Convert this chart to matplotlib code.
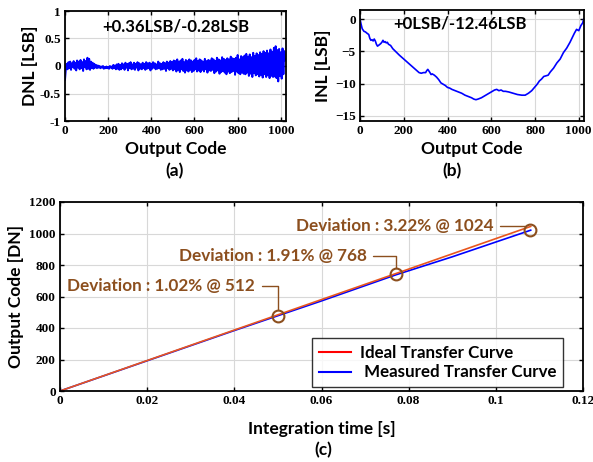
import numpy as np
import matplotlib
matplotlib.use("Agg")
import matplotlib.pyplot as plt
from matplotlib.lines import Line2D

# tick labels: Times-like bold, everything else names its own family
plt.rcParams["font.family"] = ["Liberation Serif"]
plt.rcParams["font.weight"] = "bold"
plt.rcParams["font.size"] = 9

# ---- data ----
dnl_step = 4
dnl = [
    -0.25, -0.05, 0.04, -0.06, 0.07, -0.04, 0.08, -0.07, 0.05, -0.02, 0.09, -0.05, 0.06, -0.08, 0.10, -0.03,
    0.08, -0.06, 0.11, -0.04, 0.07, -0.09, 0.12, -0.02, 0.09, -0.06, 0.15, -0.05, 0.13, -0.07, 0.08, -0.04,
    0.06, -0.05, 0.04, -0.03, 0.02, -0.04, 0.01, -0.03, 0.00, -0.04, -0.01, -0.03, 0.00, -0.05, -0.02, -0.04,
    -0.01, -0.04, -0.02, -0.05, 0.00, -0.03, -0.01, -0.05, 0.02, -0.04, 0.01, -0.06, 0.03, -0.05, 0.04, -0.07,
    0.02, -0.06, 0.05, -0.04, 0.03, -0.07, 0.06, -0.03, 0.04, -0.08, 0.05, -0.04, 0.07, -0.06, 0.03, -0.05,
    0.06, -0.07, 0.04, -0.03, 0.07, -0.08, 0.05, -0.05, 0.03, -0.06, 0.06, -0.04, 0.04, -0.07, 0.07, -0.05,
    0.05, -0.04, 0.06, -0.08, 0.04, -0.05, 0.07, -0.03, 0.05, -0.06, 0.03, -0.05, 0.08, -0.04, 0.05, -0.07,
    0.04, -0.06, 0.07, -0.05, 0.05, -0.09, 0.08, -0.04, 0.06, -0.07, 0.09, -0.05, 0.07, -0.08, 0.10, -0.06,
    0.09, -0.10, 0.12, -0.07, 0.08, -0.11, 0.10, -0.06, 0.13, -0.09, 0.07, -0.12, 0.11, -0.08, 0.09, -0.10,
    0.12, -0.07, 0.10, -0.11, 0.08, -0.09, 0.11, -0.06, 0.14, -0.10, 0.09, -0.08, 0.12, -0.11, 0.10, -0.07,
    0.08, -0.10, 0.13, -0.06, 0.09, -0.12, 0.11, -0.08, 0.10, -0.09, 0.14, -0.07, 0.12, -0.13, 0.09, -0.10,
    0.15, -0.08, 0.12, -0.14, 0.10, -0.11, 0.16, -0.09, 0.13, -0.12, 0.11, -0.15, 0.14, -0.10, 0.12, -0.13,
    0.17, -0.11, 0.14, -0.09, 0.13, -0.16, 0.15, -0.10, 0.20, -0.13, 0.12, -0.15, 0.18, -0.12, 0.16, -0.14,
    0.19, -0.15, 0.22, -0.12, 0.17, -0.18, 0.21, -0.14, 0.16, -0.20, 0.24, -0.13, 0.18, -0.17, 0.23, -0.15,
    0.20, -0.19, 0.25, -0.16, 0.22, -0.21, 0.27, -0.15, 0.24, -0.20, 0.28, -0.17, 0.23, -0.22, 0.30, -0.18,
    0.26, -0.20, 0.33, -0.19, 0.36, -0.22, 0.29, -0.28, 0.31, -0.18, 0.25, -0.23, 0.32, -0.15, 0.27, 0.10,
]
dnl_code = np.arange(len(dnl)) * dnl_step

inl_code = [0, 5, 10, 18, 25, 32, 40, 45, 50, 55, 60, 65, 70, 75, 80, 88, 95, 100, 105, 110, 115, 120,
            125, 130, 140, 150, 165, 180, 200, 220, 240, 260, 270, 280, 290, 300, 305, 310, 318, 325,
            330, 340, 350, 360, 370, 380, 390, 400, 410, 420, 435, 450, 465, 480, 495, 510, 520, 530,
            540, 555, 570, 585, 600, 615, 625, 635, 645, 655, 665, 680, 700, 720, 740, 755, 770, 785,
            800, 810, 820, 830, 840, 850, 860, 870, 885, 900, 915, 930, 945, 960, 970, 980, 990, 1000,
            1005, 1010, 1018, 1023]
inl = [0, -0.8, -1.5, -1.9, -2.0, -2.2, -2.4, -3.0, -3.3, -3.2, -3.4, -3.1, -3.4, -3.9, -4.2, -4.0,
       -3.8, -3.6, -3.3, -3.6, -3.5, -3.7, -3.6, -3.9, -4.1, -4.6, -5.1, -5.6, -6.2, -6.8, -7.4, -8.0,
       -8.3, -8.4, -8.3, -8.3, -8.0, -7.8, -8.2, -8.6, -8.5, -8.7, -9.0, -9.4, -9.9, -10.1, -10.3,
       -10.6, -10.7, -10.9, -11.1, -11.3, -11.5, -11.8, -12.0, -12.2, -12.4, -12.5, -12.4, -12.2,
       -11.9, -11.6, -11.3, -11.0, -10.9, -11.1, -11.0, -11.2, -11.2, -11.3, -11.5, -11.7, -11.8,
       -11.8, -11.5, -11.1, -10.5, -10.1, -9.6, -9.3, -8.9, -8.8, -8.7, -8.2, -7.6, -6.8, -6.2, -5.2,
       -4.5, -3.6, -2.9, -2.2, -1.6, -1.8, -1.4, -1.0, -0.6, 0]

ideal_t = [0, 0.108]
ideal_dn = [0, 1045]
meas_t = [0, 0.02, 0.04, 0.05, 0.06, 0.077, 0.09, 0.108]
meas_dn = [0, 192, 384, 478, 572, 737, 852, 1021]

dev_t = [0.05, 0.077, 0.1078]
dev_dn = [478, 740, 1024]
dev_labels = ["Deviation : 1.02% @ 512", "Deviation : 1.91% @ 768", "Deviation : 3.22% @ 1024"]
# offset (points) of each label's right end from its circle
dev_offsets = [(-16.5, 21.5), (-21, 13.5), (-26.5, 2.5)]

BROWN = "#8c4f1e"
LBL = dict(family="Lato", fontweight="bold")

fig = plt.figure(figsize=(5.93, 4.62), dpi=100)
W, H = 593, 462


def px_axes(l, t, r, b):
    return fig.add_axes([l / W, 1 - b / H, (r - l) / W, (b - t) / H])


def style(ax):
    ax.grid(True, color="#d8d8d8", lw=0.8)
    ax.set_axisbelow(True)
    ax.tick_params(direction="in", length=3, width=1, top=True, right=True, pad=3,
                   labelsize=9.5, labelfontfamily="Liberation Serif")
    for s in ax.spines.values():
        s.set_linewidth(1.3)
    for lab in ax.get_xticklabels() + ax.get_yticklabels():
        lab.set_fontweight("bold")
        lab.set_fontfamily("Liberation Serif")


# (a) DNL
ax1 = px_axes(65, 11, 286, 121)
ax1.plot(dnl_code, dnl, color="#0000ff", lw=1.4)
ax1.set_xlim(0, 1024)
ax1.set_ylim(-1, 1)
ax1.set_xticks([0, 200, 400, 600, 800, 1000])
ax1.set_yticks([-1, -0.5, 0, 0.5, 1])
ax1.set_yticklabels(["-1", "-0.5", "0", "0.5", "1"])
style(ax1)
ax1.set_xlabel("Output Code", fontsize=12.5, labelpad=3, **LBL)
ax1.set_ylabel("DNL [LSB]", fontsize=12.5, labelpad=1, **LBL)
ax1.text(0.5, 0.86, "+0.36LSB/-0.28LSB", transform=ax1.transAxes, ha="center", va="center",
         fontsize=12, **LBL)

# (b) INL
ax2 = px_axes(360, 10, 584, 121)
ax2.plot(inl_code, inl, color="#0000ff", lw=1.2)
ax2.set_xlim(0, 1024)
ax2.set_ylim(-15.8, 1.4)
ax2.set_xticks([0, 200, 400, 600, 800, 1000])
ax2.set_yticks([0, -5, -10, -15])
style(ax2)
ax2.set_xlabel("Output Code", fontsize=12.5, labelpad=3, **LBL)
ax2.set_ylabel("INL [LSB]", fontsize=12.5, labelpad=3, **LBL)
ax2.text(0.447, 0.88, "+0LSB/-12.46LSB", transform=ax2.transAxes, ha="center", va="center",
         fontsize=12, **LBL)

# (c) transfer curve
ax3 = px_axes(60, 202, 583, 391)
ax3.plot(meas_t, meas_dn, color="#0000ff", lw=1.2)
ax3.plot(ideal_t, ideal_dn, color="#e8561e", lw=1.2)
ax3.plot(dev_t, dev_dn, "o", ms=8.5, mfc="none", mec=BROWN, mew=1.5)
ax3.set_xlim(0, 0.12)
ax3.set_ylim(0, 1200)
ax3.set_xticks([0, 0.02, 0.04, 0.06, 0.08, 0.1, 0.12])
ax3.set_xticklabels(["0", "0.02", "0.04", "0.06", "0.08", "0.1", "0.12"])
ax3.set_yticks(range(0, 1201, 200))
style(ax3)
ax3.set_xlabel("Integration time [s]", fontsize=12.5, labelpad=10, **LBL)
ax3.set_ylabel("Output Code [DN]", fontsize=12.5, labelpad=4, **LBL)

for t, dn, lab, (dx, dy) in zip(dev_t, dev_dn, dev_labels, dev_offsets):
    ax3.annotate(lab, xy=(t, dn), xytext=(dx, dy), textcoords="offset points",
                 ha="right", va="center", color=BROWN, fontsize=12.3, **LBL,
                 arrowprops=dict(arrowstyle="-", color=BROWN, lw=1.0, relpos=(1, 0.5),
                                 shrinkA=3, shrinkB=4.5,
                                 connectionstyle="angle,angleA=0,angleB=90,rad=0"))

handles = [Line2D([], [], color="#ff0000", lw=1.5), Line2D([], [], color="#0000ff", lw=1.5)]
leg = ax3.legend(handles, ["Ideal Transfer Curve", " Measured Transfer Curve"],
                 loc="lower right", bbox_to_anchor=(0.962, 0.02), frameon=True, fancybox=False,
                 edgecolor="black", handlelength=1.9, handletextpad=0.5, borderpad=0.4,
                 labelspacing=0.2, borderaxespad=0,
                 prop=dict(family="Lato", weight="bold", size=12.2))
leg.get_frame().set_linewidth(1.0)

fig.text(175 / W, 1 - 171 / H, "(a)", ha="center", va="center", fontsize=12.5, **LBL)
fig.text(452 / W, 1 - 171 / H, "(b)", ha="center", va="center", fontsize=12.5, **LBL)
fig.text(323 / W, 1 - 450 / H, "(c)", ha="center", va="center", fontsize=12.5, **LBL)

fig.savefig("out.png", dpi=100)
